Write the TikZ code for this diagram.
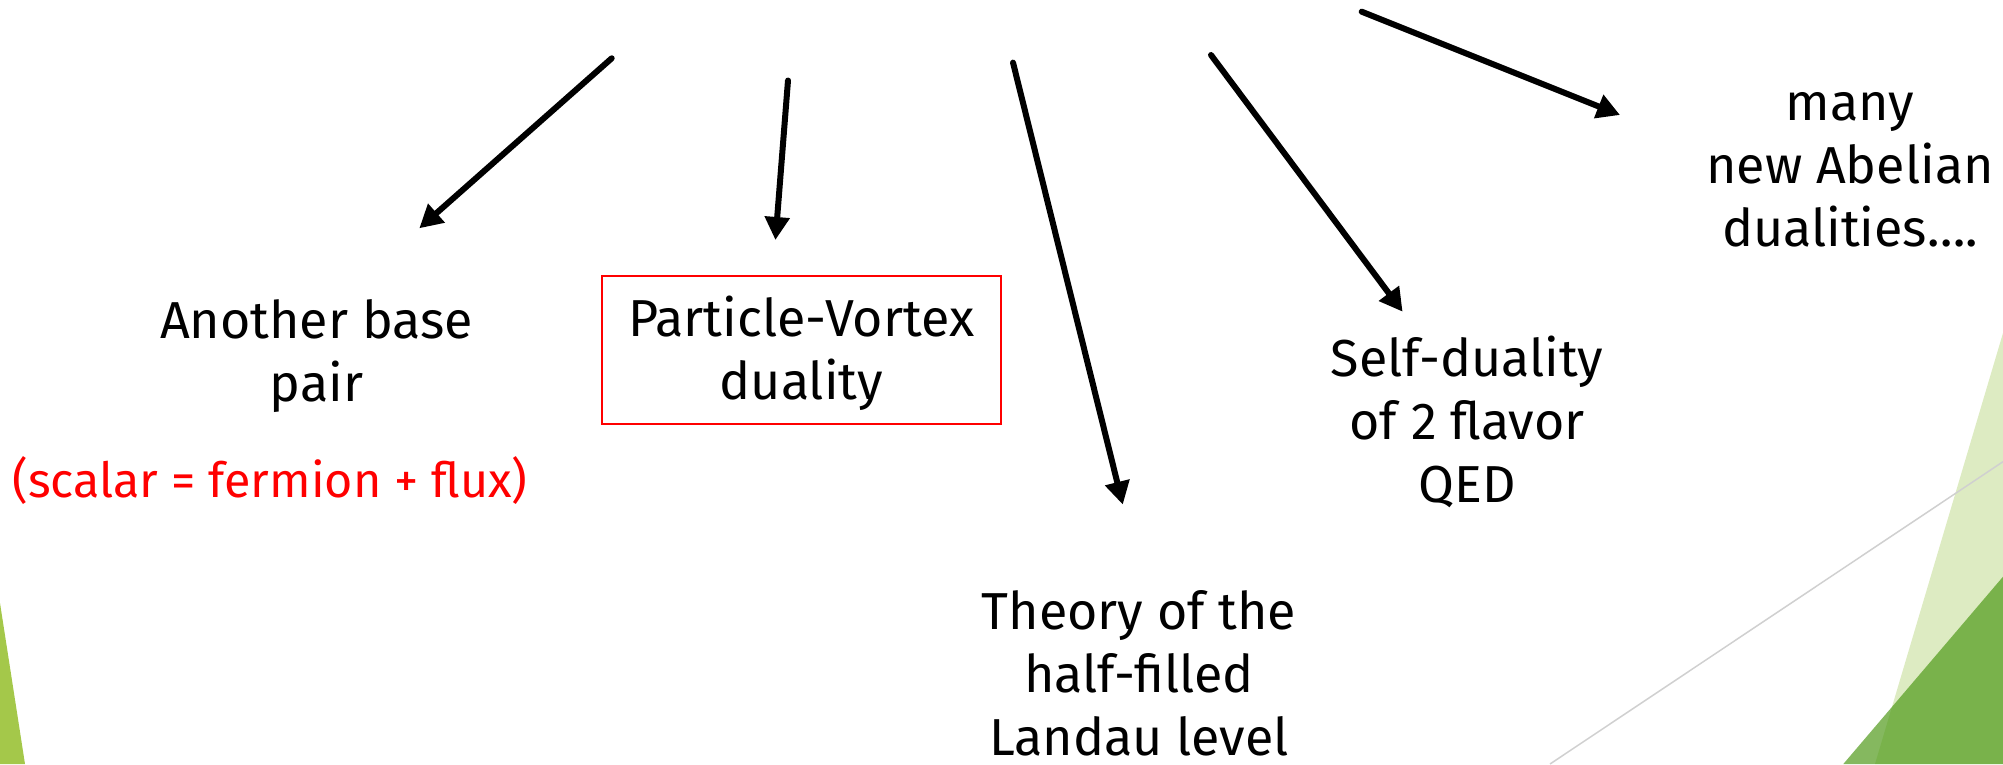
\documentclass[tikz,border=0pt]{standalone}
\usepackage{fontspec}
\setmainfont{Fira Sans}
\usetikzlibrary{arrows.meta}
\definecolor{lime}{HTML}{A4C84A}
\definecolor{palegreen}{HTML}{DDEBC2}
\definecolor{deepgreen}{HTML}{4B9713}
\definecolor{thingray}{HTML}{D0D0D0}
\newcommand{\stack}[1]{\begin{tabular}[t]{@{}c@{}}#1\end{tabular}}
\tikzset{
  lbl/.style={anchor=base, inner sep=0pt, font=\fontsize{52}{63}\selectfont},
  redlbl/.style={anchor=base, inner sep=0pt, text=red, font=\fontsize{48.5}{56}\selectfont},
  arr/.style={line width=6pt, line cap=round, -{Triangle[length=23pt,width=24pt]}},
}
\begin{document}
\begin{tikzpicture}[x=1pt,y=-1pt]
\useasboundingbox (0,0) rectangle (2003,764);
% decorative shapes
\fill[lime] (0,603) -- (25,764) -- (0,764) -- cycle;
\fill[palegreen] (2003,333) -- (1875,764) -- (2003,764) -- cycle;
\draw[thingray, line width=1.5pt] (1550,764) -- (2003,461.7);
\fill[deepgreen, fill opacity=0.68] (1843.3,764) -- (2003,576.7) -- (2003,764) -- cycle;
% labels
\node[lbl] (another) at (316.5,338) {\stack{Another base\\pair}};
\node[redlbl] (formula) at (270,497) {(scalar = fermion + flux)};
\node[draw=red, line width=2pt, inner sep=0pt, minimum width=399pt, minimum height=148.6pt,
      text height=55.3pt, text depth=81.9pt, font=\fontsize{52}{63}\selectfont] (pv) at (801.2,350)
      {\stack{Particle-Vortex\\duality}};
\node[lbl] (theory) at (1139,629) {\stack{Theory of the\\half-filled\\Landau level}};
\node[lbl] (self) at (1467,376.7) {\stack{Self-duality\\of 2 flavor\\QED}};
\node[lbl] (many) at (1850,120) {\stack{many\\new Abelian\\dualities….}};
% arrow ends
\coordinate (s1) at (611.7,58.3);  \coordinate (e1) at (419.3,228.3);
\coordinate (s2) at (788,80.5);    \coordinate (e2) at (775.4,240);
\coordinate (s3) at (1013,62.6);   \coordinate (e3) at (1122.8,504.6);
\coordinate (s4) at (1211,55);     \coordinate (e4) at (1402.6,311.7);
\coordinate (s5) at (1361.7,11.7); \coordinate (e5) at (1620,115);
\draw[arr] (s1) -- (e1);
\draw[arr] (s2) -- (e2);
\draw[arr] (s3) -- (e3);
\draw[arr] (s4) -- (e4);
\draw[arr] (s5) -- (e5);
\end{tikzpicture}
\end{document}
